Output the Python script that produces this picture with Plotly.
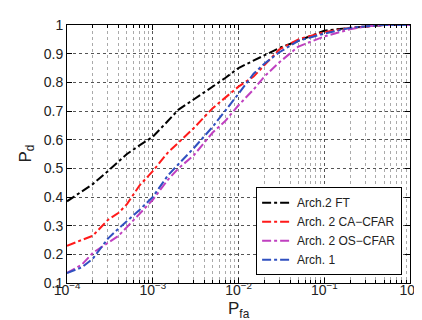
import plotly.graph_objects as go

pfa = [1e-4, 1.5e-4, 2e-4, 3e-4, 4e-4, 5e-4, 7e-4, 1e-3, 1.5e-3, 2e-3, 3e-3, 5e-3, 7e-3,
       1e-2, 1.5e-2, 2e-2, 3e-2, 5e-2, 0.1, 0.2, 0.3, 0.5, 1.0]

pd_ft = [0.385, 0.42, 0.445, 0.49, 0.525, 0.55, 0.58, 0.61, 0.665, 0.705, 0.74, 0.785, 0.815,
         0.85, 0.875, 0.895, 0.92, 0.945, 0.98, 0.99, 0.995, 1.0, 1.0]
pd_ca = [0.23, 0.25, 0.265, 0.32, 0.345, 0.375, 0.44, 0.49, 0.555, 0.59, 0.64, 0.71, 0.745,
         0.785, 0.82, 0.86, 0.915, 0.95, 0.975, 0.99, 0.995, 1.0, 1.0]
pd_os = [0.135, 0.165, 0.205, 0.24, 0.265, 0.295, 0.34, 0.39, 0.46, 0.50, 0.545, 0.625, 0.665,
         0.72, 0.775, 0.82, 0.87, 0.925, 0.96, 0.985, 0.995, 1.0, 1.0]
pd_a1 = [0.135, 0.155, 0.185, 0.255, 0.29, 0.315, 0.355, 0.40, 0.475, 0.515, 0.57, 0.645, 0.70,
         0.76, 0.83, 0.865, 0.905, 0.945, 0.97, 0.99, 0.995, 1.0, 1.0]

x_tickvals = [1e-4, 1e-3, 1e-2, 1e-1, 1.0]
x_ticktext = ["10<sup>\u22124</sup>", "10<sup>\u22123</sup>", "10<sup>\u22122</sup>",
              "10<sup>\u22121</sup>", "10<sup>0</sup>"]
x_minor_vals = [m * d for d in [1e-4, 1e-3, 1e-2, 1e-1] for m in range(2, 10)]

names = ["Arch.2 FT", "Arch. 2 CA\u2212CFAR", "Arch. 2 OS\u2212CFAR", "Arch. 1"]
colors = ["#000000", "#ff1a1a", "#c040c0", "#3050c0"]
series = [pd_ft, pd_ca, pd_os, pd_a1]

fig = go.Figure()
for n, c, s in zip(names, colors, series):
    fig.add_trace(go.Scatter(x=pfa, y=s, mode="lines", name=n,
                             line=dict(color=c, width=2, dash="dashdot")))

ff = "Liberation Sans, Arial, sans-serif"
font = dict(family=ff, size=14, color="#222222")

fig.update_layout(
    width=422, height=320,
    margin=dict(l=59, r=16, t=9, b=45),
    paper_bgcolor="white", plot_bgcolor="white",
    font=font,
    showlegend=True,
    legend=dict(x=0.977, y=0.03, xanchor="right", yanchor="bottom",
                bordercolor="#000000", borderwidth=1, bgcolor="white",
                font=dict(family=ff, size=12, color="#222222"),
                tracegroupgap=0, itemwidth=30),
    annotations=[
        dict(text="P<sub>fa</sub>", xref="paper", yref="paper", x=0.5, y=-0.105,
             xanchor="center", yanchor="middle", showarrow=False,
             font=dict(family=ff, size=17, color="#222222")),
        dict(text="P<sub>d</sub>", xref="paper", yref="paper", x=-0.118, y=0.5,
             xanchor="center", yanchor="middle", showarrow=False, textangle=-90,
             font=dict(family=ff, size=17, color="#222222")),
    ],
)

fig.update_xaxes(
    type="log", range=[-4, 0], tickvals=x_tickvals, ticktext=x_ticktext,
    tickfont=dict(family=ff, size=14, color="#222222"),
    ticklabelstandoff=-6,
    showline=True, linecolor="#000000", linewidth=1, mirror="ticks",
    ticks="inside", ticklen=5, tickcolor="#000000",
    showgrid=True, gridcolor="#555555", griddash="dot", gridwidth=1,
    minor=dict(tickvals=x_minor_vals, ticks="inside", ticklen=3, tickcolor="#000000",
               showgrid=True, gridcolor="#aaaaaa", griddash="dot", gridwidth=1),
    zeroline=False,
)
fig.update_yaxes(
    range=[0.1, 1.0], dtick=0.1, tickformat="~g",
    showline=True, linecolor="#000000", linewidth=1, mirror="ticks",
    ticks="inside", ticklen=5, tickcolor="#000000",
    showgrid=True, gridcolor="#555555", griddash="dot", gridwidth=1,
    zeroline=False,
)

fig.write_html("out.html")
